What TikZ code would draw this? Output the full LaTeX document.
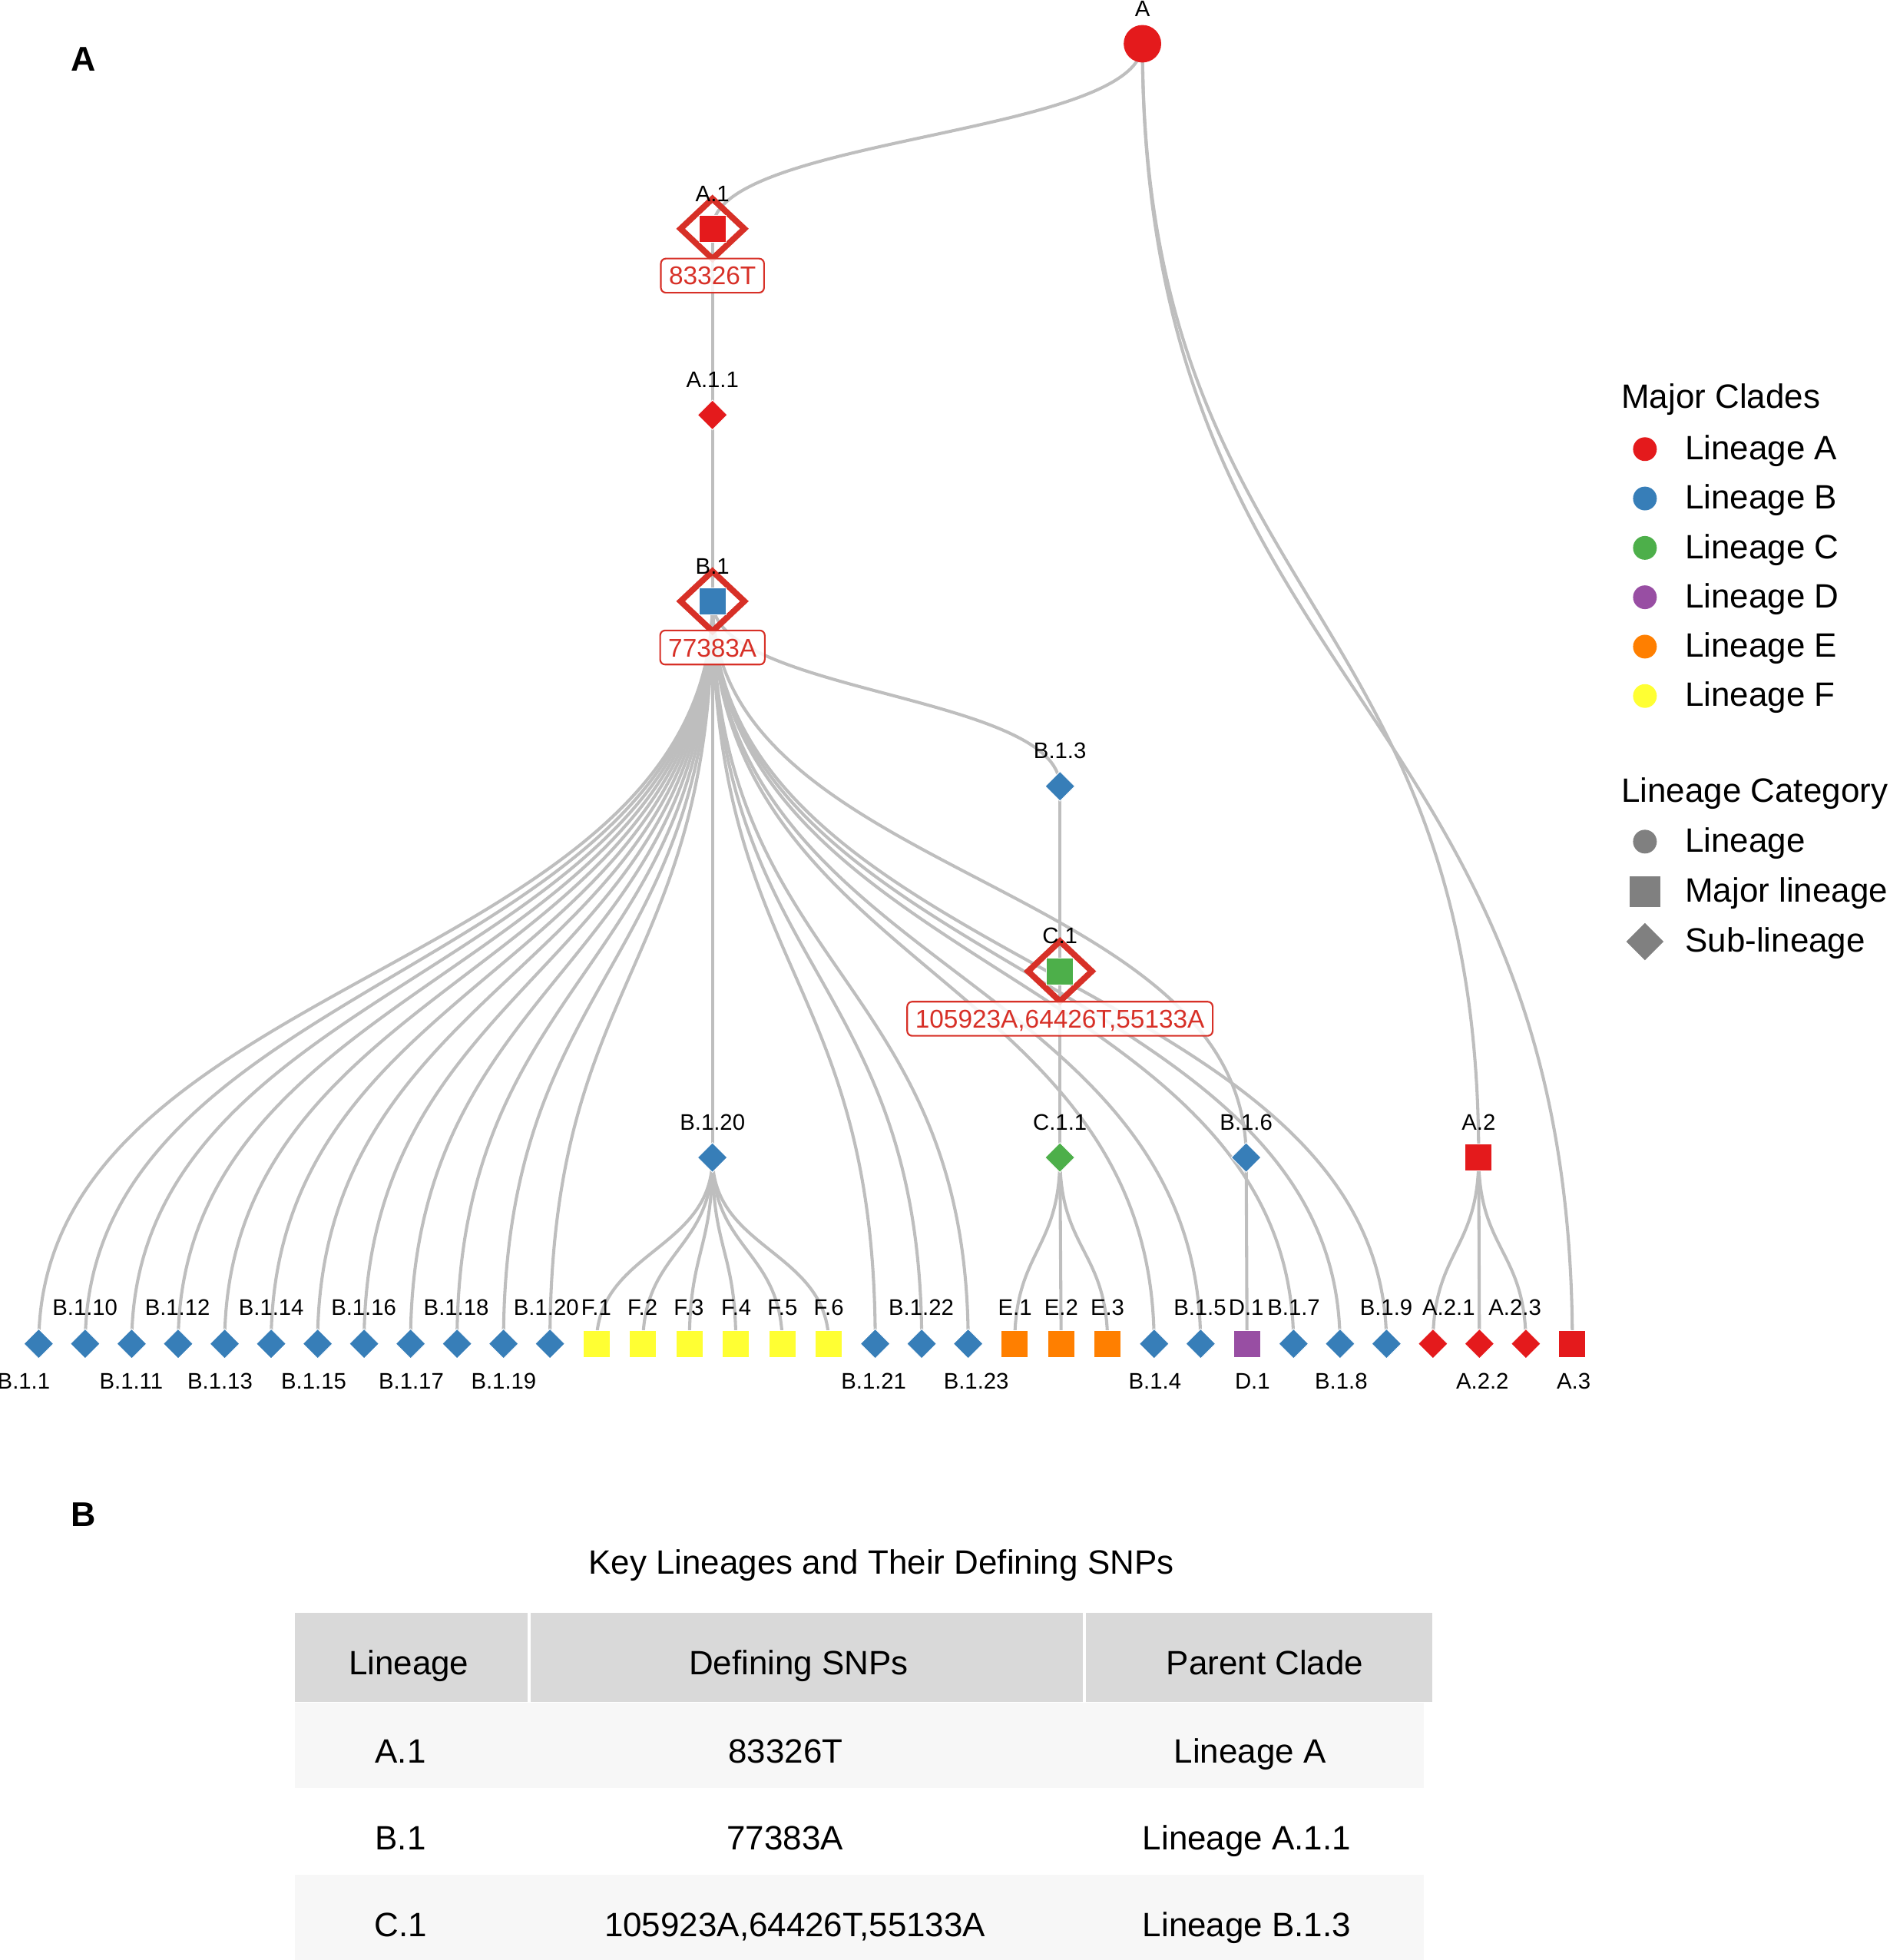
\documentclass[tikz,border=0pt]{standalone}
\usepackage{fontspec}
\setmainfont{Liberation Sans}
\usetikzlibrary{shapes.geometric,backgrounds,calc}

% Set1 palette
\definecolor{linA}{HTML}{E41A1C}
\definecolor{linB}{HTML}{377EB8}
\definecolor{linC}{HTML}{4DAF4A}
\definecolor{linD}{HTML}{984EA3}
\definecolor{linE}{HTML}{FF7F00}
\definecolor{linF}{HTML}{FFFF33}
\definecolor{snpred}{HTML}{D73027}
\definecolor{edgegray}{HTML}{BEBEBE}
\definecolor{hdrgray}{HTML}{D9D9D9}
\definecolor{rowgray}{HTML}{F7F7F7}

\tikzset{
  subl/.style={diamond, draw=white, line width=0.6pt, inner sep=0pt, minimum width=24pt, minimum height=24pt},
  majl/.style={rectangle, draw=white, line width=0.6pt, inner sep=0pt, minimum size=21.5pt},
  rootl/.style={circle, inner sep=0pt, minimum size=30pt},
  ring/.style={diamond, draw=snpred, line width=4.8pt, inner sep=0pt, minimum width=53pt, minimum height=50pt},
  snpbox/.style={draw=snpred, line width=1.3pt, fill=white, fill opacity=0.85, text opacity=1,
    rounded corners=4pt, text=snpred, font=\fontsize{20.5}{24}\selectfont,
    text height=14.7pt, text depth=0pt, inner xsep=6.5pt, inner ysep=6.3pt},
  tag/.style={font=\fontsize{18}{22}\selectfont, anchor=base, inner sep=0pt},
  keytext/.style={font=\fontsize{27}{32}\selectfont, anchor=base west, inner sep=0pt},
  cell/.style={font=\fontsize{27}{32}\selectfont, anchor=base, inner sep=0pt},
  panel/.style={font=\fontsize{27.5}{32}\selectfont\bfseries, anchor=base, inner sep=0pt},
  branch/.style={draw=edgegray, line width=2.5pt},
  diag/.style={to path={let \p1=(\tikztostart), \p2=(\tikztotarget), \p3=($(\p1)!0.5!(\p2)$) in
    .. controls (\x1,\y3) and (\x2,\y3) .. (\tikztotarget)}}
}

\begin{document}
\begin{tikzpicture}[x=1pt,y=-1pt]
\useasboundingbox (0,0) rectangle (1512,1568);

% panel letters
\node[panel] (pA) at (67,57) {A};
\node[panel] (pB) at (67,1221) {B};

% inner nodes of the tree
\node[rootl, fill=linA] (nA) at (914,35) {};
\node[ring] (kA1) at (570,183) {};
\node[majl, fill=linA] (nA1) at (570,183) {};
\node[snpbox] (sA1) at (570,220.5) {83326T};
\node[subl, fill=linA] (nA11) at (570,332) {};
\node[ring] (kB1) at (570,481) {};
\node[majl, fill=linB] (nB1) at (570,481) {};
\node[snpbox] (sB1) at (570,518) {77383A};
\node[subl, fill=linB] (nB13) at (848,629) {};
\node[ring] (kC1) at (848,777) {};
\node[majl, fill=linC] (nC1) at (848,777) {};
\node[snpbox] (sC1) at (848,815) {105923A,64426T,55133A};
\node[subl, fill=linB] (nB120) at (570,926) {};
\node[subl, fill=linC] (nC11) at (848,926) {};
\node[subl, fill=linB] (nB16) at (997,926) {};
\node[majl, fill=linA] (nA2) at (1183,926) {};

% labels of inner nodes
\node[tag] (tA) at (914,13) {A};
\node[tag] (tA1) at (570,161) {A.1};
\node[tag] (tA11) at (570,310) {A.1.1};
\node[tag] (tB1) at (570,459) {B.1};
\node[tag] (tB13) at (848,607) {B.1.3};
\node[tag] (tC1) at (848,755) {C.1};
\node[tag] (tB120) at (570,904) {B.1.20};
\node[tag] (tC11) at (848,904) {C.1.1};
\node[tag] (tB16) at (997,904) {B.1.6};
\node[tag] (tA2) at (1183,904) {A.2};

% leaves
\foreach \i/\nm/\col/\shp/\lx/\ly in {
  0/B.1.1/linB/subl/19/1111, 1/B.1.10/linB/subl/68/1052, 2/B.1.11/linB/subl/105/1111,
  3/B.1.12/linB/subl/142/1052, 4/B.1.13/linB/subl/176/1111, 5/B.1.14/linB/subl/217/1052,
  6/B.1.15/linB/subl/251/1111, 7/B.1.16/linB/subl/291/1052, 8/B.1.17/linB/subl/329/1111,
  9/B.1.18/linB/subl/365/1052, 10/B.1.19/linB/subl/403/1111, 11/B.1.20/linB/subl/437/1052,
  12/F.1/linF/majl/477/1052, 13/F.2/linF/majl/514/1052, 14/F.3/linF/majl/551/1052,
  15/F.4/linF/majl/589/1052, 16/F.5/linF/majl/626/1052, 17/F.6/linF/majl/663/1052,
  18/B.1.21/linB/subl/699/1111, 19/B.1.22/linB/subl/737/1052, 20/B.1.23/linB/subl/781/1111,
  21/E.1/linE/majl/812/1052, 22/E.2/linE/majl/849/1052, 23/E.3/linE/majl/886/1052,
  24/B.1.4/linB/subl/924/1111, 25/B.1.5/linB/subl/960/1052, 26/D.1/linD/majl/997/1052,
  27/B.1.7/linB/subl/1035/1052, 28/B.1.8/linB/subl/1073/1111, 29/B.1.9/linB/subl/1109/1052,
  30/A.2.1/linA/subl/1159/1052, 31/A.2.2/linA/subl/1186/1111, 32/A.2.3/linA/subl/1212/1052,
  33/A.3/linA/majl/1259/1111}
{
  \node[\shp, fill=\col] (l\i) at ({31+37.18*\i},1075) {};
  \node[tag] (t\i) at (\lx,\ly) {\nm};
}
\node[tag] (t26b) at (1002,1111) {D.1};

% branches
\begin{scope}[on background layer]
  \draw[branch] (nA.center) to[diag] (nA1.center);
  \draw[branch] (nA.center) to[diag] (nA2.center);
  \draw[branch] (nA.center) to[diag] (l33.center);
  \draw[branch] (nA1.center) to[diag] (nA11.center);
  \draw[branch] (nA11.center) to[diag] (nB1.center);
  \draw[branch] (nB1.center) to[diag] (nB13.center);
  \draw[branch] (nB13.center) to[diag] (nC1.center);
  \draw[branch] (nC1.center) to[diag] (nC11.center);
  \draw[branch] (nB1.center) to[diag] (nB120.center);
  \draw[branch] (nB1.center) to[diag] (nB16.center);
  \draw[branch] (nB16.center) to[diag] (l26.center);
  \foreach \c in {0,1,2,3,4,5,6,7,8,9,10,11,18,19,20,24,25,27,28,29}
    \draw[branch] (nB1.center) to[diag] (l\c.center);
  \foreach \c in {12,13,14,15,16,17}
    \draw[branch] (nB120.center) to[diag] (l\c.center);
  \foreach \c in {21,22,23}
    \draw[branch] (nC11.center) to[diag] (l\c.center);
  \foreach \c in {30,31,32}
    \draw[branch] (nA2.center) to[diag] (l\c.center);
\end{scope}

% legend
\node[keytext] (kclades) at (1297,326.7) {Major Clades};
\foreach \k/\col/\txt in {0/linA/Lineage A, 1/linB/Lineage B, 2/linC/Lineage C,
  3/linD/Lineage D, 4/linE/Lineage E, 5/linF/Lineage F}
{
  \node[circle, fill=\col, inner sep=0pt, minimum size=19pt] (kd\k) at (1316,{359.3+39.5*\k}) {};
  \node[keytext] (kt\k) at (1348,{367.7+39.5*\k}) {\txt};
}
\node[keytext] (kcat) at (1297,641.8) {Lineage Category};
\node[circle, fill=gray, inner sep=0pt, minimum size=19pt] (kg1) at (1316,673.3) {};
\node[rectangle, fill=gray, inner sep=0pt, minimum size=25pt] (kg2) at (1316,713.3) {};
\node[diamond, fill=gray, inner sep=0pt, minimum width=30pt, minimum height=30pt] (kg3) at (1316,753.3) {};
\node[keytext] (kc1) at (1348,681.5) {Lineage};
\node[keytext] (kc2) at (1348,721.5) {Major lineage};
\node[keytext] (kc3) at (1348,761.5) {Sub-lineage};

% table
\node[cell] (ttitle) at (705,1259) {Key Lineages and Their Defining SNPs};
\fill[hdrgray] (236,1290) rectangle (422,1361.6);
\fill[hdrgray] (424.5,1290) rectangle (866.5,1361.6);
\fill[hdrgray] (869,1290) rectangle (1146,1361.6);
\fill[rowgray] (236,1362) rectangle (1139,1430.5);
\fill[rowgray] (236,1499.5) rectangle (1139,1568);
\node[cell] (h1) at (327,1340) {Lineage};
\node[cell] (h2) at (639,1340) {Defining SNPs};
\node[cell] (h3) at (1012,1340) {Parent Clade};
\node[cell] (r1a) at (320.5,1410.6) {A.1};
\node[cell] (r1b) at (628.5,1410.6) {83326T};
\node[cell] (r1c) at (1000,1410.6) {Lineage A};
\node[cell] (r2a) at (320.5,1480) {B.1};
\node[cell] (r2b) at (628,1480) {77383A};
\node[cell] (r2c) at (997.5,1480) {Lineage A.1.1};
\node[cell] (r3a) at (320.5,1549) {C.1};
\node[cell] (r3b) at (636,1549) {105923A,64426T,55133A};
\node[cell] (r3c) at (997.5,1549) {Lineage B.1.3};

\end{tikzpicture}
\end{document}
